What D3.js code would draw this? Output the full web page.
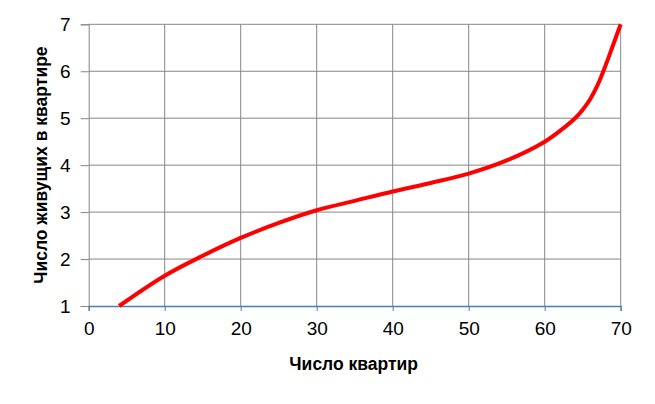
<!DOCTYPE html>
<html>
<head>
<meta charset="utf-8">
<script src="https://cdn.jsdelivr.net/npm/d3@7"></script>
<style>
html,body{margin:0;padding:0;background:#fff;}
svg{display:block;}
</style>
</head>
<body>
<svg id="chart" width="655" height="404"></svg>
<script>
const xValues = [4, 10, 15, 20, 25, 30, 35, 40, 45, 50, 55, 60, 62, 64, 65, 66, 67, 68, 69, 70];
const yValues = [1, 1.645, 2.07, 2.45, 2.77, 3.04, 3.24, 3.44, 3.62, 3.82, 4.1, 4.5, 4.73, 5.0, 5.18, 5.41, 5.72, 6.12, 6.56, 7.0];
const xTicks = [0, 10, 20, 30, 40, 50, 60, 70];
const yTicks = [1, 2, 3, 4, 5, 6, 7];
const xTitle = "Число квартир";
const yTitle = "Число живущих в квартире";

const svg = d3.select("#chart");
const m = {left: 88.7, right: 620.7, top: 24.3, bottom: 306};
const x = d3.scaleLinear().domain([0, 70]).range([m.left, m.right]);
const y = d3.scaleLinear().domain([1, 7]).range([m.bottom, m.top]);
const font = "'Liberation Sans', Arial, sans-serif";
const grid = "#868686";
const blue = "#4A7EBB";

// vertical gridlines
svg.append("g").selectAll("line").data(xTicks.filter(d => d > 0)).join("line")
  .attr("x1", d => x(d)).attr("x2", d => x(d))
  .attr("y1", y(7)).attr("y2", y(1))
  .attr("stroke", grid).attr("stroke-width", 1);
// horizontal gridlines
svg.append("g").selectAll("line").data(yTicks.filter(d => d > 1)).join("line")
  .attr("x1", x(0)).attr("x2", x(70))
  .attr("y1", d => y(d)).attr("y2", d => y(d))
  .attr("stroke", grid).attr("stroke-width", 1);

// y axis
const yAxis = d3.axisLeft(y).tickValues(yTicks).tickSize(8).tickPadding(10).tickFormat(d3.format("d"));
const gy = svg.append("g").attr("transform", `translate(${x(0)},0)`).call(yAxis);
gy.select(".domain").attr("stroke", grid);
gy.selectAll(".tick line").attr("stroke", grid);
gy.selectAll("text").attr("font-family", font).attr("font-size", 19).attr("fill", "#000");

// x axis
const xAxis = d3.axisBottom(x).tickValues(xTicks).tickSize(5).tickPadding(11).tickFormat(d3.format("d"));
const gx = svg.append("g").attr("transform", `translate(0,${y(1)})`).call(xAxis);
gx.select(".domain").attr("stroke", blue).attr("stroke-width", 1.3);
gx.selectAll(".tick line").attr("stroke", blue);
gx.selectAll("text").attr("font-family", font).attr("font-size", 19).attr("fill", "#000");

// curve
const pts = xValues.map((v, i) => [v, yValues[i]]);
svg.append("path").datum(pts)
  .attr("fill", "none").attr("stroke", "#FF0000").attr("stroke-width", 4)
  .attr("stroke-linecap", "butt")
  .attr("d", d3.line().x(d => x(d[0])).y(d => y(d[1])).curve(d3.curveCatmullRom.alpha(0.5)));

// titles
svg.append("text").attr("x", (m.left + m.right) / 2 - 1).attr("y", 370)
  .attr("text-anchor", "middle").attr("font-family", font).attr("font-weight", "bold")
  .attr("font-size", 17.5).attr("fill", "#000").text(xTitle);
svg.append("text").attr("transform", `translate(47,${(m.top + m.bottom) / 2}) rotate(-90)`)
  .attr("text-anchor", "middle").attr("font-family", font).attr("font-weight", "bold")
  .attr("font-size", 17.5).attr("fill", "#000").text(yTitle);
</script>
</body>
</html>
